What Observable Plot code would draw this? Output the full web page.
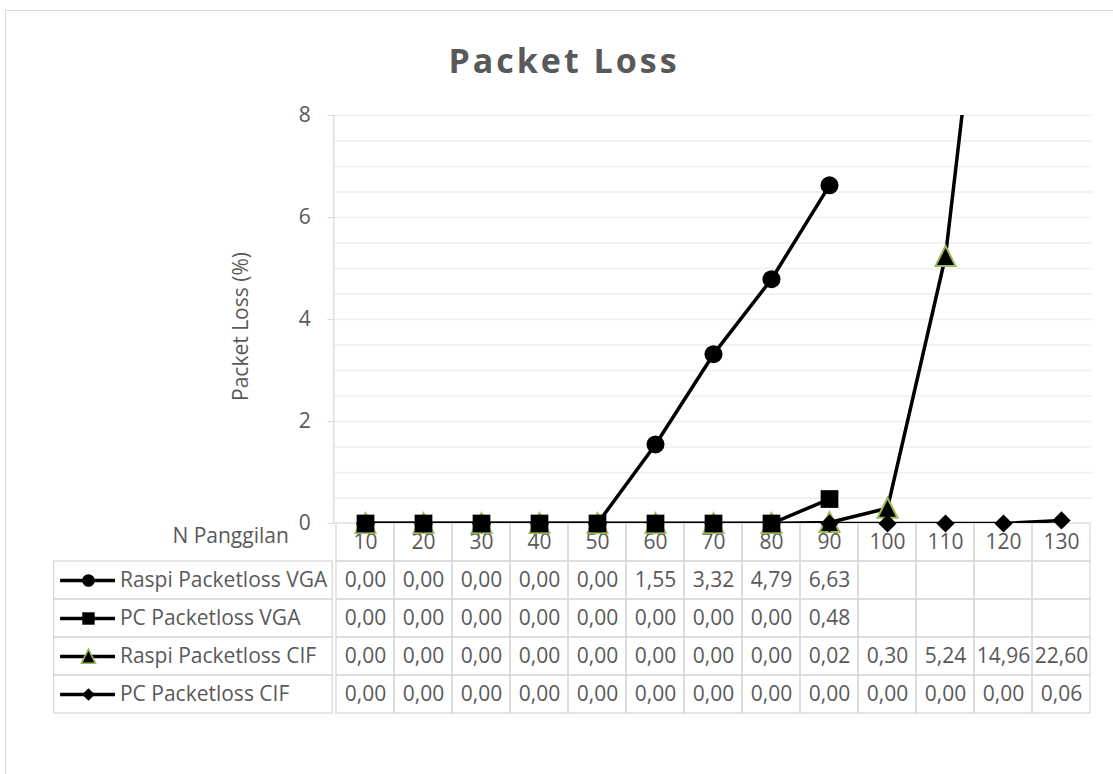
<!DOCTYPE html>
<html><head><meta charset="utf-8">
<script src="https://cdn.jsdelivr.net/npm/d3@7"></script>
<script src="https://cdn.jsdelivr.net/npm/@observablehq/plot@0.6"></script>
<style>
html,body{margin:0;padding:0;background:#fff;overflow:hidden;}
#wrap{position:relative;width:1113px;height:774px;overflow:hidden;font-family:"Open Sans",sans-serif;background:#fff;}
#border{position:absolute;left:5px;top:10px;width:1200px;height:900px;border-left:1.5px solid #d9d9d9;border-top:1.5px solid #d9d9d9;}
#title{position:absolute;left:0;width:1128px;top:43px;text-align:center;font-size:34px;line-height:34px;font-weight:700;color:#595959;letter-spacing:3px;}
</style></head><body>
<div id="wrap"><div id="border"></div><div id="title">Packet Loss</div></div>
<script>
// ---- data ----
const categories = [10, 20, 30, 40, 50, 60, 70, 80, 90, 100, 110, 120, 130];
const seriesNames = ["Raspi Packetloss VGA", "PC Packetloss VGA", "Raspi Packetloss CIF", "PC Packetloss CIF"];
const raspiVGA = [0, 0, 0, 0, 0, 1.55, 3.32, 4.79, 6.63];
const pcVGA = [0, 0, 0, 0, 0, 0, 0, 0, 0.48];
const raspiCIF = [0, 0, 0, 0, 0, 0, 0, 0, 0.02, 0.30, 5.24, 14.96, 22.60];
const pcCIF = [0, 0, 0, 0, 0, 0, 0, 0, 0, 0, 0, 0, 0.06];
const yTicks = [0, 2, 4, 6, 8];
const xLabel = "N Panggilan";
const yLabel = "Packet Loss (%)";

// ---- styling ----
const grey = "#595959", light = "#d9d9d9", grid = "#eeeeee", green = "#9bbb59";
const yMax = 8;
const tri = {draw(ctx, size) {
  const r = Math.sqrt(size / Math.PI);
  ctx.moveTo(0, -1.4 * r); ctx.lineTo(1.35 * r, 1.3 * r); ctx.lineTo(-1.35 * r, 1.3 * r); ctx.closePath();
}};
const markStyles = [
  {symbol: "circle", r: 9, fill: "black"},
  {symbol: "square", r: 10, fill: "black"},
  {symbol: tri, r: 7.4, fill: "black", stroke: green, strokeWidth: 2},
  {symbol: "diamond2", r: 8.2, fill: "black"}
];
const legendScale = 0.7;
const drawOrder = [0, 2, 1, 3];

const seriesValues = [raspiVGA, pcVGA, raspiCIF, pcCIF];
const points = seriesValues.flatMap((vals, i) => vals.map((v, j) => ({series: seriesNames[i], n: categories[j], v})));
const fmt = v => v.toFixed(2).replace(".", ",");

const baseStyle = {fontFamily: "Open Sans", fontSize: "21px", color: grey, background: "transparent", overflow: "visible"};
const wrap = document.getElementById("wrap");
function place(el, left, top) { el.style.position = "absolute"; el.style.left = left + "px"; el.style.top = top + "px"; wrap.appendChild(el); }

// ---- table (header row + data rows) ----
const rowsDomain = [xLabel, ...seriesNames];
const cells = [
  ...categories.map(n => ({row: xLabel, n, text: String(n)})),
  ...seriesValues.flatMap((vals, i) => categories.map((n, j) => ({row: seriesNames[i], n, text: vals[j] == null ? "" : fmt(vals[j])})))
];
const table = Plot.plot({
  width: 1113, height: 193, marginTop: 1, marginBottom: 2, marginLeft: 333.3, marginRight: 21.3,
  style: baseStyle,
  x: {type: "band", domain: categories, padding: 0, axis: null},
  y: {type: "band", domain: rowsDomain, padding: 0, axis: null},
  marks: [
    Plot.cell(cells, {x: "n", y: "row", fill: "none", stroke: light, strokeWidth: 1.3, inset: 0}),
    Plot.text(cells, {x: "n", y: "row", text: "text", fill: grey, fontSize: 21}),
    Plot.text([xLabel], {frameAnchor: "left", y: d => d, text: d => d, textAnchor: "end", dx: -45, dy: -6, fill: grey, fontSize: 21})
  ]
});
place(table, 0, 522);

// ---- row label column with legend keys ----
const legend = Plot.plot({
  width: 280, height: 193, marginTop: 1, marginBottom: 2, marginLeft: 0.7, marginRight: 0.7,
  style: baseStyle,
  x: {domain: [0, 100], axis: null},
  y: {type: "band", domain: rowsDomain, padding: 0, axis: null},
  marks: [
    Plot.barX(seriesNames, {x1: 0, x2: 100, y: d => d, fill: "none", stroke: light, strokeWidth: 1.3, inset: 0}),
    Plot.ruleY(seriesNames, {y: d => d, x1: 2.3, x2: 22, stroke: "black", strokeWidth: 3.5}),
    ...seriesNames.map((name, i) => Plot.dot([name], {x: 12.3, y: d => d, ...markStyles[i], r: markStyles[i].r * legendScale, strokeWidth: markStyles[i].strokeWidth ? 1.6 : undefined})),
    Plot.text(seriesNames, {x: 23.6, y: d => d, text: d => d, textAnchor: "start", fill: grey, fontSize: 21})
  ]
});
place(legend, 53.3, 522);

// ---- main chart ----
const chart = Plot.plot({
  width: 1113, height: 560, marginTop: 115, marginBottom: 37, marginLeft: 333.3, marginRight: 21.3,
  style: baseStyle,
  x: {type: "point", domain: categories, padding: 0.5, axis: null},
  y: {domain: [0, yMax]},
  marks: [
    Plot.ruleY(d3.ticks(0, yMax, 20).filter(t => t > 0), {stroke: grid, strokeWidth: 1.3}),
    Plot.frame({anchor: "left", stroke: light, strokeWidth: 1.3}),
    Plot.axisY(yTicks, {tickSize: 6, tickPadding: 17, tickFormat: d => String(d), stroke: light, fill: grey, label: null, fontSize: 21}),
    Plot.text([yLabel], {frameAnchor: "left", rotate: -90, textAnchor: "middle", dx: -93, dy: 7, text: d => d, fill: grey, fontSize: 21}),
    ...drawOrder.flatMap(i => [
      Plot.line(points.filter(d => d.series === seriesNames[i]), {x: "n", y: "v", stroke: "black", strokeWidth: 3.5, strokeLinejoin: "round", clip: true}),
      Plot.dot(points.filter(d => d.series === seriesNames[i] && d.v <= yMax), {x: "n", y: "v", ...markStyles[i]})
    ])
  ]
});
place(chart, 0, 0);
</script>
</body></html>
